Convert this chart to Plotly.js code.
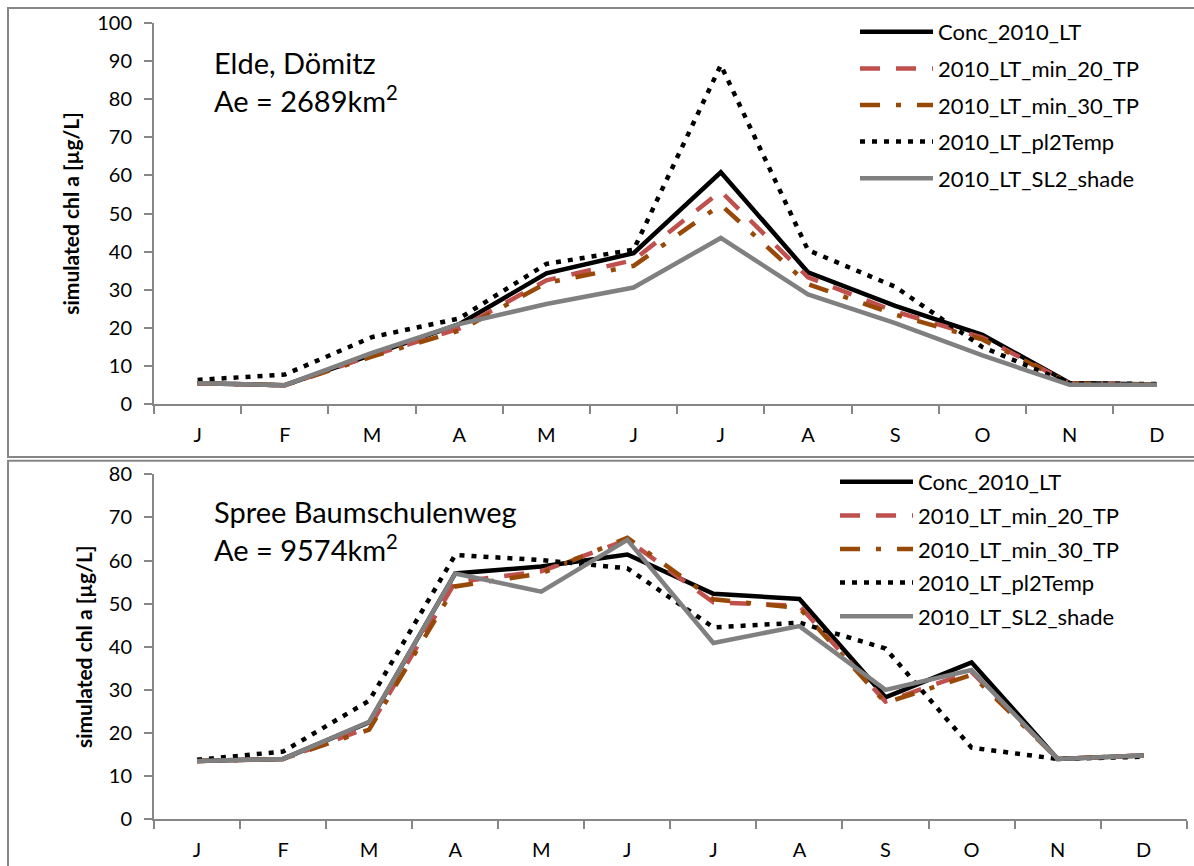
<!DOCTYPE html>
<html><head><meta charset="utf-8">
<script src="https://cdn.plot.ly/plotly-3.0.1.min.js"></script>
<style>html,body{margin:0;padding:0;background:#fff;} #chart{width:1194px;height:866px;}</style>
</head><body><div id="chart"></div>
<script>
const months = ['J','F','M','A','M','J','J','A','S','O','N','D'];
const seriesNames = ['Conc_2010_LT','2010_LT_min_20_TP','2010_LT_min_30_TP','2010_LT_pl2Temp','2010_LT_SL2_shade'];
const yTitle = 'simulated chl a [µg/L]';

// Elde, Dömitz
const eldeConc  = [5.5, 5.0, 13.0, 21.0, 34.3, 39.6, 60.8, 34.6, 25.8, 18.2, 5.6, 5.2];
const eldeMin20 = [5.5, 5.0, 12.8, 19.8, 32.5, 37.8, 55.8, 33.3, 24.3, 17.5, 5.5, 5.2];
const eldeMin30 = [5.5, 5.0, 12.5, 19.3, 31.8, 36.3, 52.3, 31.5, 23.5, 17.0, 5.5, 5.2];
const eldePl2   = [6.4, 7.8, 17.6, 22.5, 36.8, 40.5, 88.9, 40.4, 30.8, 15.0, 5.5, 5.3];
const eldeSl2   = [5.5, 5.0, 13.5, 21.0, 26.3, 30.6, 43.6, 28.8, 21.3, 12.8, 5.1, 5.1];

// Spree Baumschulenweg
const spreeConc  = [13.5, 14.0, 22.5, 57.0, 58.6, 61.4, 52.3, 51.1, 28.3, 36.4, 14.0, 14.8];
const spreeMin20 = [13.5, 14.0, 21.3, 55.0, 57.5, 64.8, 50.3, 49.5, 27.3, 34.2, 14.0, 14.8];
const spreeMin30 = [13.5, 14.0, 20.8, 54.0, 57.0, 65.3, 51.0, 49.0, 27.0, 33.5, 14.0, 14.8];
const spreePl2   = [13.8, 15.7, 27.5, 61.3, 60.1, 58.2, 44.5, 45.6, 39.6, 16.6, 14.0, 14.5];
const spreeSl2   = [13.5, 14.0, 22.6, 57.0, 52.8, 64.8, 40.9, 44.8, 30.0, 34.6, 14.0, 14.8];

const styles = [
  {color:'#000000', dash:'solid', width:4.5},
  {color:'#C0504D', dash:'20px,16px', width:4.5},
  {color:'#984807', dash:'20px,16px,5px,16px', width:4.5},
  {color:'#000000', dash:'5px,7px', width:4.5},
  {color:'#808080', dash:'solid', width:4.5}
];

const xIdx = months.map((m, i) => i);
const boundaries = months.map((m, i) => i - 0.5).concat([months.length - 0.5]);

const W = 1194, H = 866;
const px = v => v / W;
const py = v => (H - v) / H;

const traces = [];
[eldeConc, eldeMin20, eldeMin30, eldePl2, eldeSl2].forEach((ys, k) => {
  traces.push({x: xIdx, y: ys, type:'scatter', mode:'lines', name: seriesNames[k],
    line: Object.assign({}, styles[k]), xaxis:'x', yaxis:'y', legend:'legend',
    legendgroup:'top'+k});
});
[spreeConc, spreeMin20, spreeMin30, spreePl2, spreeSl2].forEach((ys, k) => {
  traces.push({x: xIdx, y: ys, type:'scatter', mode:'lines', name: seriesNames[k],
    line: Object.assign({}, styles[k]), xaxis:'x2', yaxis:'y2', legend:'legend2',
    legendgroup:'bot'+k});
});

const axisCol = '#868686';
const tickFont = {family:'Lato, sans-serif', size:20, color:'#000'};
function xAxis(domain, range, anchor) {
  return {domain: domain, range: range, anchor: anchor, showline:true, linecolor:axisCol, linewidth:2,
    showgrid:false, zeroline:false, tickmode:'array', tickvals: xIdx, ticktext: months, ticks:'',
    tickfont: tickFont, ticklabelstandoff: 12,
    minor: {tickmode:'array', tickvals: boundaries, ticks:'outside', ticklen:8, tickwidth:2, tickcolor:axisCol, showgrid:false},
    fixedrange:true};
}
function yAxis(domain, range, anchor, standoff) {
  return {domain: domain, range: range, anchor: anchor, showline:true, linecolor:axisCol, linewidth:2,
    showgrid:false, zeroline:false, dtick:10, tick0:0, ticks:'outside', ticklen:8, tickwidth:2, tickcolor:axisCol,
    tickfont: tickFont, ticklabelstandoff: 8,
    title:{text: yTitle, font:{family:'Lato, sans-serif', size:21, weight:'bold', color:'#000'}, standoff: standoff},
    fixedrange:true};
}

const legFont = {family:'Lato, sans-serif', size:22, color:'#000'};
const layout = {
  width: W, height: H, margin:{l:0, r:0, t:0, b:0}, paper_bgcolor:'#fff', plot_bgcolor:'rgba(0,0,0,0)',
  font:{family:'Lato, sans-serif', color:'#000'},
  showlegend:true,
  xaxis: xAxis([px(154), 1], [-0.5, -0.5 + (W - 154) / 87.2], 'y'),
  yaxis: yAxis([py(404.3), py(22.7)], [0, 100], 'x', 12),
  xaxis2: xAxis([px(154), px(1186.7)], [-0.5, 11.5], 'y2'),
  yaxis2: yAxis([py(819.3), py(474.3)], [0, 80], 'x2', 10),
  legend: {x: px(855), y: py(11), xanchor:'left', yanchor:'top', font: legFont, traceorder:'grouped',
    tracegroupgap: 5, itemwidth: 73, bgcolor:'rgba(0,0,0,0)'},
  legend2: {x: px(835), y: py(461), xanchor:'left', yanchor:'top', font: legFont, traceorder:'grouped',
    tracegroupgap: 2, itemwidth: 73, bgcolor:'rgba(0,0,0,0)'},
  annotations: [
    {text:'Elde, Dömitz', xref:'paper', yref:'paper', x:px(212), y:py(62.5), xanchor:'left', yanchor:'middle', showarrow:false, font:{family:'Lato, sans-serif', size:29, color:'#000'}},
    {text:'Ae = 2689km<sup>2</sup>', xref:'paper', yref:'paper', x:px(212), y:py(99), xanchor:'left', yanchor:'middle', showarrow:false, font:{family:'Lato, sans-serif', size:29, color:'#000'}},
    {text:'Spree Baumschulenweg', xref:'paper', yref:'paper', x:px(212), y:py(511.7), xanchor:'left', yanchor:'middle', showarrow:false, font:{family:'Lato, sans-serif', size:29, color:'#000'}},
    {text:'Ae = 9574km<sup>2</sup>', xref:'paper', yref:'paper', x:px(212), y:py(548), xanchor:'left', yanchor:'middle', showarrow:false, font:{family:'Lato, sans-serif', size:29, color:'#000'}}
  ],
  shapes: [
    {type:'rect', xref:'paper', yref:'paper', x0:px(8), x1:1.02, y0:py(457), y1:py(8), line:{color:axisCol, width:2}, fillcolor:'rgba(0,0,0,0)', layer:'below'},
    {type:'rect', xref:'paper', yref:'paper', x0:px(8), x1:1.02, y0:-0.05, y1:py(460.7), line:{color:axisCol, width:2}, fillcolor:'rgba(0,0,0,0)', layer:'below'}
  ]
};

const gdiv = document.getElementById('chart');
function stretchLegendKeys() {
  // lengthen the legend line samples to match the Excel-style legend keys
  gdiv.querySelectorAll('g.legendlines path, path.js-line').forEach(p => {
    const d = p.getAttribute('d') || '';
    if (/^M5,0h30/.test(d) || /^M5,0l30/.test(d)) p.setAttribute('d', 'M5,0h72');
  });
}
Plotly.newPlot(gdiv, traces, layout, {displayModeBar:false, staticPlot:true}).then(() => {
  stretchLegendKeys();
  gdiv.on && gdiv.on('plotly_afterplot', stretchLegendKeys);
  [50, 200, 500, 1000].forEach(t => setTimeout(stretchLegendKeys, t));
});
</script>
</body></html>
